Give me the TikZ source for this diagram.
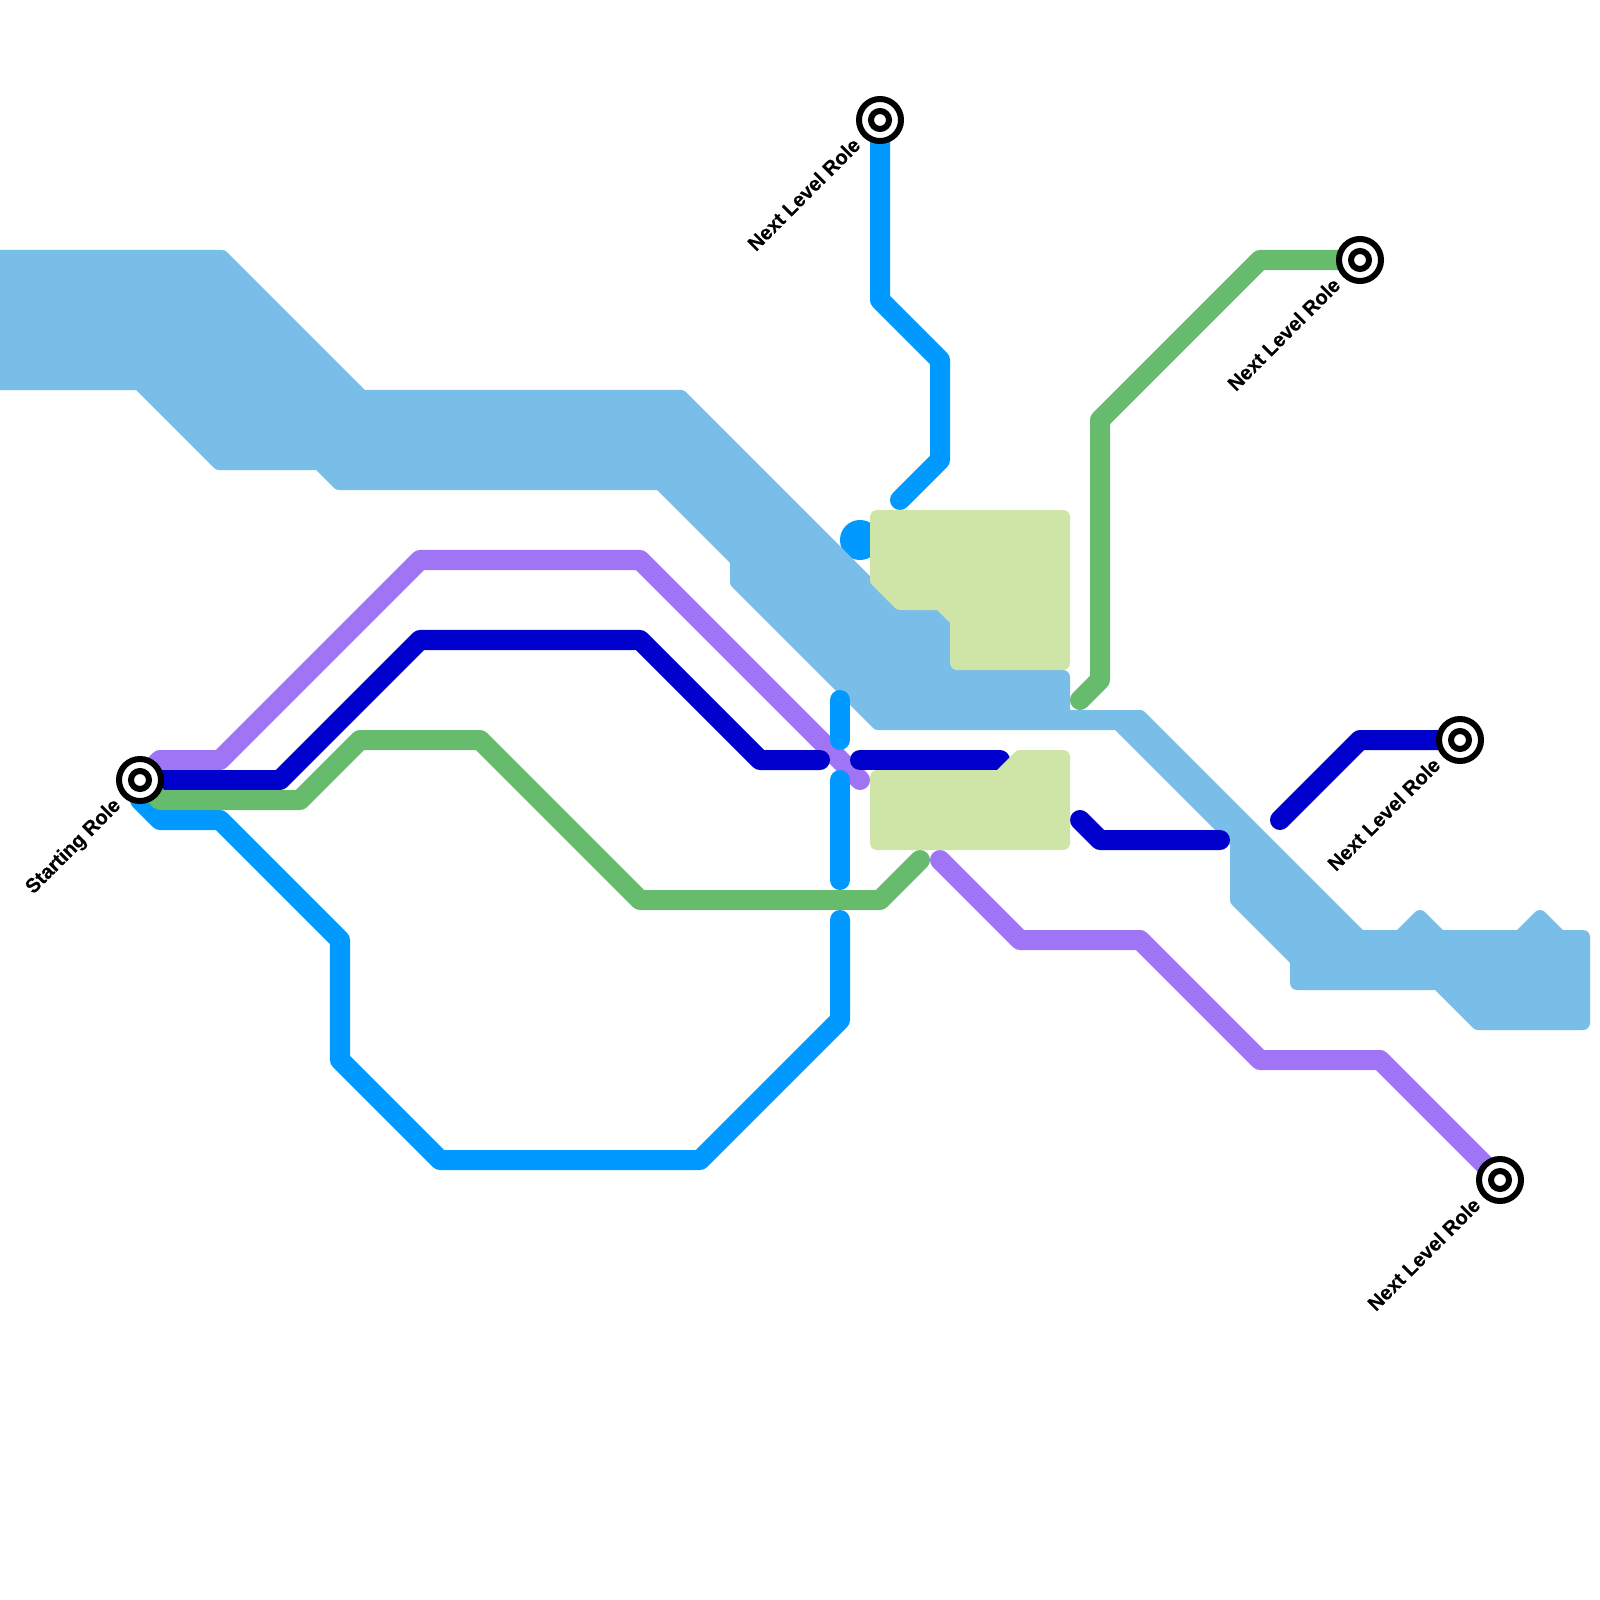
\documentclass[tikz,border=0pt]{standalone}
\usepackage{fontspec}
\setmainfont[BoldFeatures={FakeBold=0.25}]{Liberation Sans}
\usepackage{xcolor}
\usetikzlibrary{calc, backgrounds}
\definecolor{river}{HTML}{79BDE9}
\definecolor{park}{HTML}{CFE4A7}
\definecolor{skyline}{HTML}{0099FF}
\definecolor{navyline}{HTML}{0000CC}
\definecolor{purpleline}{HTML}{9F75F6}
\definecolor{greenline}{HTML}{66BB6D}

\begin{document}
\begin{tikzpicture}[
    x=0.01cm, y=-0.01cm,
    route/.style={line width=2mm, line cap=round, line join=round},
    stationout/.style={circle, draw=black, fill=white, line width=0.6mm,
                minimum size=4.2mm, inner sep=0pt},
    stationin/.style={circle, draw=black, fill=white, line width=0.6mm,
                minimum size=1.8mm, inner sep=0pt},
    lbl/.style={font=\bfseries\fontsize{5.7}{7}\selectfont, rotate=45,
                anchor=base east, inner sep=0pt},
    area/.style={line width=1.4mm, line join=round}
]
\useasboundingbox (0,0) rectangle (1600,1600);

\node[stationout] (start) at (140,780) {};
\node[stationout] (rolea) at (880,120) {};
\node[stationout] (roleb) at (1360,260) {};
\node[stationout] (rolec) at (1460,740) {};
\node[stationout] (roled) at (1500,1180) {};
\node[stationin] (starti) at (start) {};
\node[stationin] (roleai) at (rolea) {};
\node[stationin] (rolebi) at (roleb) {};
\node[stationin] (roleci) at (rolec) {};
\node[stationin] (roledi) at (roled) {};

\node[lbl] (startlbl) at ($(start)+(-18,26)$) {Starting Role};
\node[lbl] (rolealbl) at ($(rolea)+(-18,26)$) {Next Level Role};
\node[lbl] (roleblbl) at ($(roleb)+(-18,26)$) {Next Level Role};
\node[lbl] (roleclbl) at ($(rolec)+(-18,26)$) {Next Level Role};
\node[lbl] (roledlbl) at ($(roled)+(-18,26)$) {Next Level Role};

\begin{scope}[on background layer]
\fill[skyline] (860,540) circle (2mm);

\filldraw[river, area] (-20,257) -- (222,257) -- (362,397) -- (681,397) -- (880,596)
    -- (963,596) -- (963,677) -- (1063,677) -- (1063,717) -- (1140,717) -- (1360,937)
    -- (1400,937) -- (1420,917) -- (1440,937) -- (1520,937) -- (1540,917) -- (1560,937)
    -- (1583,937) -- (1583,1023) -- (1478,1023) -- (1438,983) -- (1297,983)
    -- (1297,960) -- (1237,900) -- (1237,842) -- (1118,723) -- (878,723)
    -- (737,582) -- (737,560) -- (660,483) -- (339,483) -- (319,463)
    -- (219,463) -- (139,383) -- (-20,383) -- cycle;

\draw[route, purpleline] (start.center) -- (160,760) -- (220,760) -- (420,560)
    -- (640,560) -- (860,780);
\draw[route, purpleline] (940,860) -- (1020,940) -- (1140,940) -- (1260,1060)
    -- (1380,1060) -- (roled.center);

\draw[route, skyline] (start.center) -- (140,800) -- (160,820) -- (220,820)
    -- (340,940) -- (340,1060) -- (440,1160) -- (700,1160) -- (840,1020) -- (840,920);
\draw[route, skyline] (840,780) -- (840,880);
\draw[route, skyline] (840,700) -- (840,740);
\draw[route, skyline] (900,500) -- (940,460) -- (940,360) -- (880,300) -- (rolea.center);

\draw[route, navyline] (start.center) -- (280,780) -- (420,640) -- (640,640)
    -- (760,760) -- (820,760);
\draw[route, navyline] (860,760) -- (1000,760);
\draw[route, navyline] (1080,820) -- (1100,840) -- (1220,840);
\draw[route, navyline] (1280,820) -- (1360,740) -- (rolec.center);

\draw[route, greenline] (start.center) -- (160,800) -- (300,800) -- (360,740)
    -- (480,740) -- (640,900) -- (880,900) -- (920,860);
\draw[route, greenline] (1080,700) -- (1100,680) -- (1100,420) -- (1260,260)
    -- (roleb.center);

\filldraw[park, area] (877,517) -- (1063,517) -- (1063,663) -- (957,663) -- (957,620)
    -- (940,603) -- (900,603) -- (877,580) -- cycle;
\filldraw[park, area] (877,777) -- (1000,777) -- (1020,757) -- (1063,757) -- (1063,843)
    -- (877,843) -- cycle;
\end{scope}

\end{tikzpicture}
\end{document}
